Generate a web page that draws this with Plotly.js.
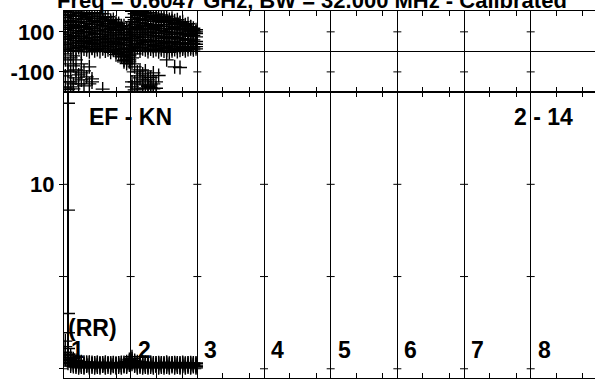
<!DOCTYPE html>
<html><head><meta charset="utf-8">
<script src="https://cdn.plot.ly/plotly-3.0.1.min.js"></script>
<style>html,body{margin:0;padding:0;background:#fff}#chart{width:595px;height:380px}</style>
</head><body><div id="chart"></div>
<script>
const titleText = "Freq = 0.6047 GHz, BW = 32.000 MHz - Calibrated";
const baselineLabel = "EF - KN";
const timeLabel = "2 - 14";
const polLabel = "(RR)";
const ifLabels = ["1","2","3","4","5","6","7","8"];
const channelsPerIF = 25;
const minorTickChannels = [10, 20];
const phaseTicks = [-100, 100];
const phaseTickText = ["-100", "100"];
const ampTicks = [0, 5, 10];
const ampTickText = ["0", "", "10"];

// Phase samples per channel: IF1 (ch 1-25) then IF2 (ch 26-50)
const phaseL1 = [201,188,196,183,199,190,180,197,186,192,178,195,184,176,190,170,175,158,162,148,142,128,130,112,115,
                 203,190,198,185,200,192,183,196,180,189,176,184,170,178,162,168,155,160,146,150,135,140,124,118,110];
const phaseL2 = [170,182,158,176,165,152,178,160,171,150,166,158,145,168,152,160,140,150,135,138,122,130,110,118,96,
                 172,160,180,165,155,175,160,170,152,166,158,148,162,150,145,155,140,136,144,128,132,118,125,108,100];
const phaseL3 = [145,130,152,138,128,146,132,120,142,126,135,118,138,124,130,112,128,115,120,108,112,96,100,88,80,
                 150,138,128,145,132,140,125,138,120,130,118,126,135,115,128,110,122,112,118,105,110,100,104,95,92];
const phaseL4 = [112,122,100,118,108,95,120,102,110,98,115,92,106,100,88,104,95,84,98,90,80,86,72,70,58,
                 118,105,122,110,98,115,104,96,112,100,92,108,95,102,88,98,90,96,85,92,80,88,78,82,75];
const phaseL5 = [88,76,95,82,70,92,78,85,66,80,72,88,70,76,62,80,68,74,60,66,55,62,48,45,35,
                 85,95,78,88,72,84,90,75,82,70,78,66,80,72,64,76,68,72,60,66,58,64,56,60,52];
const phaseL6 = [62,70,50,66,58,45,68,52,60,48,56,42,62,50,44,55,48,40,52,38,42,30,35,20,12,
                 66,54,70,58,48,62,52,60,45,56,50,42,54,46,40,52,44,48,38,46,40,44,36,42,38];
const phaseL7 = [38,30,45,25,40,32,22,42,28,35,20,38,26,30,18,34,24,28,15,25,12,18,5,-2,-15,
                 35,28,42,22,36,30,20,38,26,32,24,18,34,22,28,16,30,20,26,22,18,28,24,20,26];
const phaseL8 = [12,20,5,16,8,22,2,14,10,0,18,6,12,2,16,4,10,-2,8,0,-8,-15,-25,-38,-50,
                 18,8,22,4,15,10,2,14,6,12,0,10,4,8,-2,6,12,2,8,14,6,12,16,10,15];
const phaseO1 = [-40,-95,-150,-70,-130,-160,-105,null,-125,-75,-150,null,null,null,null,null,null,null,null,-14,null,-24,-42,-58,-20,
                 -30,-75,-120,null,-110,-150,-172,-128,-160,-182,-118,null,null,-40,null,null,-75,null,-78,null,null,null,null,null,null];
const phaseO2 = [-180,-150,-100,-185,-40,null,-60,-95,null,null,-135,null,null,null,-186,null,null,null,null,null,null,null,-15,-30,null,
                 -175,-150,-185,-90,-165,-95,-140,-178,-105,-150,null,null,null,null,null,null,null,null,null,null,null,null,null,null,null];
const phaseO3 = [-120,-188,-30,-160,null,-115,null,-170,null,null,null,null,null,null,null,null,null,null,null,null,null,null,null,null,null,
                 -60,-190,-100,null,-185,null,-170,null,-185,null,null,null,null,null,null,null,null,null,null,null,null,null,null,null,null];
const phaseO4 = [-10,-60,-175,-20,-90,null,-140,null,null,-160,null,null,null,null,null,null,null,null,null,null,null,-5,-50,-20,-40,
                 -150,-10,-160,-130,-140,-180,-120,-165,null,null,null,null,null,null,null,null,null,null,null,null,null,null,null,null,null];

// Amplitude samples per channel
const ampS1 = [1.5,1.1,0.7,0.55,0.45,0.4,0.38,0.36,0.35,0.33,0.34,0.32,0.33,0.31,0.32,0.3,0.31,0.3,0.31,0.3,0.31,0.32,0.34,0.38,0.5,
               0.65,0.45,0.38,0.35,0.33,0.34,0.32,0.33,0.31,0.32,0.3,0.31,0.3,0.31,0.3,0.31,0.3,0.31,0.3,0.31,0.3,0.31,0.3,0.31,0.3];
const ampS2 = [0.9,0.6,0.35,0.3,0.25,0.22,0.2,0.24,0.2,0.21,0.26,0.22,0.2,0.25,0.2,0.22,0.24,0.21,0.2,0.25,0.2,0.21,0.22,0.25,0.35,
               0.45,0.3,0.25,0.22,0.26,0.21,0.2,0.24,0.2,0.21,0.25,0.22,0.2,0.24,0.2,0.22,0.25,0.21,0.2,0.24,0.2,0.21,0.25,0.22,0.2];
const ampS3 = [0.5,0.3,0.15,0.12,0.1,0.14,0.1,0.11,0.15,0.12,0.1,0.13,0.1,0.12,0.15,0.11,0.1,0.12,0.14,0.11,0.1,0.12,0.12,0.15,0.2,
               0.25,0.15,0.12,0.1,0.14,0.1,0.13,0.1,0.12,0.15,0.11,0.1,0.14,0.1,0.11,0.13,0.12,0.1,0.11,0.14,0.12,0.1,0.11,0.13,0.12];
const ampS4 = [1.2,0.8,0.5,0.42,0.36,0.3,0.34,0.28,0.3,0.36,0.28,0.3,0.34,0.27,0.3,0.35,0.28,0.3,0.33,0.27,0.3,0.34,0.3,0.32,0.42,
               0.55,0.38,0.32,0.3,0.35,0.28,0.3,0.34,0.27,0.3,0.33,0.28,0.3,0.35,0.27,0.3,0.33,0.28,0.3,0.34,0.27,0.3,0.33,0.28,0.3];
const ampS5 = [0.7,0.45,0.25,0.2,0.18,0.05,0.16,0.06,0.18,0.05,0.16,0.06,0.17,0.05,0.16,0.06,0.18,0.05,0.16,0.06,0.17,0.05,0.16,0.1,0.28,
               0.35,0.2,0.06,0.17,0.05,0.16,0.06,0.18,0.05,0.16,0.06,0.17,0.05,0.16,0.06,0.18,0.05,0.16,0.06,0.17,0.05,0.16,0.06,0.18,0.05];
const spikeChannel = 2;
const spikeAmp = [0.76, 1.95, 3.0, 8.6, 14.4, 40];

const channels = ampS1.map((_, i) => i + 1);
const chanX = channels.map(c => (c - 0.5) / channelsPerIF);
const ifBounds = [0,1,2,3,4,5,6,7,8];
const minorTicks = [];
ifBounds.forEach(b => minorTickChannels.forEach(m => minorTicks.push(b + (m - 0.5) / channelsPerIF)));

const FONT = "Liberation Sans, Arial, Helvetica, sans-serif";
const mk = {symbol: "cross-thin-open", size: 10, color: "#000", line: {color: "#000", width: 1.4}};

const traces = [];
[phaseL1, phaseL2, phaseL3, phaseL4, phaseL5, phaseL6, phaseL7, phaseL8, phaseO1, phaseO2, phaseO3, phaseO4].forEach(s => {
  traces.push({type: "scatter", mode: "markers", x: chanX, y: s, xaxis: "x2", yaxis: "y2", marker: mk, hoverinfo: "skip", showlegend: false});
});
[ampS1, ampS2, ampS3, ampS4, ampS5].forEach(s => {
  traces.push({type: "scatter", mode: "markers", x: chanX, y: s, xaxis: "x", yaxis: "y", marker: mk, hoverinfo: "skip", showlegend: false});
});
const sx = (spikeChannel - 0.5) / channelsPerIF;
traces.push({type: "scatter", mode: "lines+markers", x: spikeAmp.map(() => sx), y: spikeAmp, xaxis: "x", yaxis: "y",
  marker: mk, line: {color: "#000", width: 2}, hoverinfo: "skip", showlegend: false});

const xRange = [0, 531 / 66.67];
function xAx(anchor) {
  return {domain: [0, 1], range: xRange, anchor: anchor, tickmode: "array", tickvals: ifBounds, ticks: "",
    showticklabels: false, showgrid: true, gridcolor: "#000", gridwidth: 1, showline: true, linecolor: "#000",
    linewidth: 1, mirror: "ticks", zeroline: false,
    minor: {tickmode: "array", tickvals: minorTicks, ticks: "inside", ticklen: 5, tickcolor: "#000", tickwidth: 1, showgrid: false}};
}
const split = 0.779;
const tickFont = {family: FONT, size: 22, color: "#000", weight: "bold"};

const shapes = [];
ifBounds.slice(0, 8).forEach(b => {
  ampTicks.forEach(v => shapes.push({type: "line", xref: "x", yref: "y", xsizemode: "pixel", xanchor: b, x0: -4, x1: 4, y0: v, y1: v, line: {color: "#000", width: 1}}));
  phaseTicks.forEach(v => shapes.push({type: "line", xref: "x2", yref: "y2", xsizemode: "pixel", xanchor: b, x0: -4, x1: 4, y0: v, y1: v, line: {color: "#000", width: 1}}));
});

const annFont = {family: FONT, size: 23, color: "#000", weight: "bold"};
const annotations = [
  {text: baselineLabel, x: 1, y: 13.65, xref: "x", yref: "y", xanchor: "center", yanchor: "middle", showarrow: false, font: annFont},
  {text: timeLabel, x: 7.185, y: 13.65, xref: "x", yref: "y", xanchor: "center", yanchor: "middle", showarrow: false, font: annFont},
  {text: polLabel, x: 0.42, y: 2.2, xref: "x", yref: "y", xanchor: "center", yanchor: "middle", showarrow: false, font: annFont}
];
ifLabels.forEach((t, i) => annotations.push({text: t, x: i, y: 1.03, xref: "x", yref: "y", xanchor: "left", yanchor: "middle", xshift: 5, showarrow: false, font: annFont}));

const layout = {
  width: 595, height: 380,
  margin: {l: 64, r: 0, t: 11, b: 2, pad: 0},
  paper_bgcolor: "#fff", plot_bgcolor: "#fff",
  title: {text: titleText, font: {family: FONT, size: 22, color: "#000", weight: "bold"},
    xref: "container", x: 57 / 595, xanchor: "left", yref: "container", y: 1 - 8 / 380, yanchor: "bottom", pad: {t: 0, b: 0, l: 0, r: 0}},
  showlegend: false,
  xaxis: xAx("y"),
  xaxis2: xAx("y2"),
  yaxis: {domain: [0, split], range: [-0.5, 15], tickmode: "array", tickvals: ampTicks, ticktext: ampTickText,
    ticks: "outside", ticklen: 4, tickcolor: "#000", showline: true, linecolor: "#000", linewidth: 1, mirror: false,
    zeroline: false, showgrid: false, tickfont: tickFont},
  yaxis2: {domain: [split, 1], range: [-201, 204], tickmode: "array", tickvals: phaseTicks, ticktext: phaseTickText,
    ticks: "outside", ticklen: 4, tickcolor: "#000", showline: true, linecolor: "#000", linewidth: 1, mirror: false,
    zeroline: true, zerolinecolor: "#000", zerolinewidth: 1, showgrid: false, tickfont: tickFont},
  shapes: shapes,
  annotations: annotations
};
Plotly.newPlot("chart", traces, layout, {staticPlot: true, displayModeBar: false});
</script></body></html>
